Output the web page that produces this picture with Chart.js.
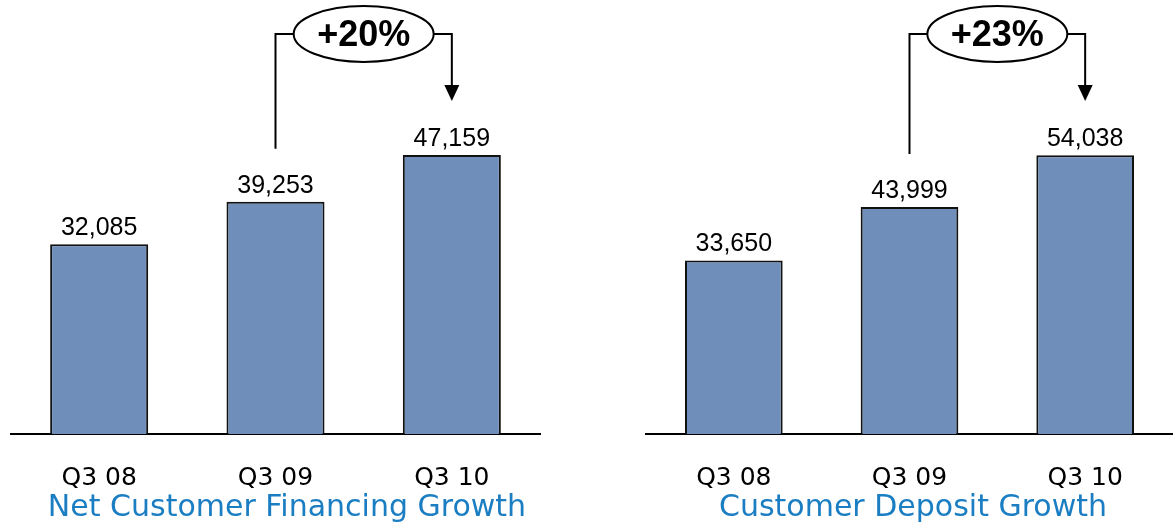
<!DOCTYPE html>
<html>
<head>
<meta charset="utf-8">
<script src="https://cdn.jsdelivr.net/npm/chart.js@4"></script>
<style>
  body { margin: 0; background: #fff; width: 1173px; height: 522px; overflow: hidden; position: relative; }
  canvas { position: absolute; top: 0; }
  .title { position: absolute; top: 488px; font-family: 'DejaVu Sans', sans-serif; font-size: 30px; line-height: 36px; color: #1B7EC2; text-align: center; white-space: nowrap; }
</style>
</head>
<body>
<canvas id="financing-chart" width="560" height="522" style="left:0"></canvas>
<canvas id="deposit-chart" width="533" height="522" style="left:640px"></canvas>
<div class="title" id="financing-title" style="left:0;width:574px"></div>
<div class="title" id="deposit-title" style="left:640px;width:546px"></div>
<script>
// Values
const categories = ['Q3 08', 'Q3 09', 'Q3 10'];
const financingValues = [32085, 39253, 47159];
const depositValues = [33650, 43999, 54038];
const financingGrowth = '+20%';
const depositGrowth = '+23%';
const financingTitle = 'Net Customer Financing Growth';
const depositTitle = 'Customer Deposit Growth';

document.getElementById('financing-title').textContent = financingTitle;
document.getElementById('deposit-title').textContent = depositTitle;

// value labels above bars + growth bracket with ellipse
const barLabels = {
    id: 'barLabels',
    afterDatasetsDraw(chart, args, opts) {
        const ctx = chart.ctx;
        const meta = chart.getDatasetMeta(0);
        const data = chart.data.datasets[0].data;
        ctx.save();
        ctx.fillStyle = '#000';
        ctx.font = '25px "Liberation Sans", Arial, sans-serif';
        ctx.textAlign = 'center';
        ctx.textBaseline = 'alphabetic';
        meta.data.forEach((bar, i) => {
            ctx.fillText(data[i].toLocaleString('en-US'), bar.x, bar.y - 9);
        });

        // bracket from bar 1 to bar 2
        const a = meta.data[1], b = meta.data[2];
        const top = 34;
        const cx = (a.x + b.x) / 2;
        ctx.strokeStyle = '#000';
        ctx.lineWidth = 2;
        ctx.beginPath();
        ctx.moveTo(a.x, a.y - 53);
        ctx.lineTo(a.x, top);
        ctx.lineTo(b.x, top);
        ctx.lineTo(b.x, 88);
        ctx.stroke();
        ctx.fillStyle = '#000';
        ctx.beginPath();
        ctx.moveTo(b.x - 7.5, 85);
        ctx.lineTo(b.x + 7.5, 85);
        ctx.lineTo(b.x, 101);
        ctx.closePath();
        ctx.fill();

        ctx.beginPath();
        ctx.ellipse(cx, top, 70, 28, 0, 0, Math.PI * 2);
        ctx.fillStyle = '#fff';
        ctx.fill();
        ctx.stroke();
        ctx.fillStyle = '#000';
        ctx.font = 'bold 36px "Liberation Sans", Arial, sans-serif';
        ctx.textBaseline = 'middle';
        ctx.fillText(opts.growth, cx, top + 2);
        ctx.restore();
    }
};

function createBarChart(id, values, yMax, padLeft, padRight, growth) {
    const ctx = document.getElementById(id).getContext('2d');
    return new Chart(ctx, {
        type: 'bar',
        data: {
            labels: categories,
            datasets: [{
                data: values,
                backgroundColor: '#6F8EBA',
                borderColor: '#111',
                borderWidth: 2,
                categoryPercentage: 1,
                barPercentage: 0.556
            }]
        },
        options: {
            responsive: false,
            animation: false,
            devicePixelRatio: 1,
            layout: {
                padding: { top: 60, left: padLeft, right: padRight, bottom: 0 }
            },
            plugins: {
                legend: { display: false },
                tooltip: { enabled: false },
                barLabels: { growth: growth }
            },
            scales: {
                x: {
                    grid: { display: false, drawTicks: false },
                    border: { display: true, color: '#000', width: 2 },
                    ticks: {
                        color: '#000',
                        padding: 29,
                        font: { family: 'DejaVu Sans', size: 25 }
                    }
                },
                y: {
                    display: false,
                    min: 0,
                    max: yMax
                }
            }
        },
        plugins: [barLabels]
    });
}

createBarChart('financing-chart', financingValues, 63200, 11, 20, financingGrowth);
createBarChart('deposit-chart', depositValues, 72500, 6, 0, depositGrowth);
</script>
</body>
</html>
